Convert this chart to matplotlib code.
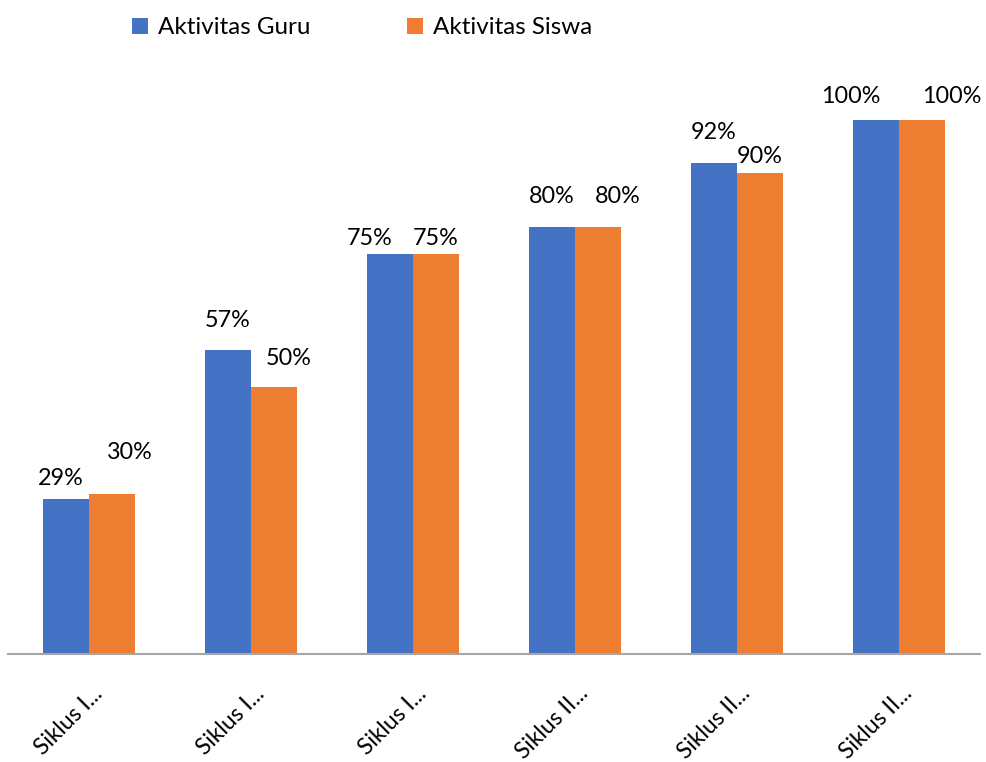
import matplotlib
matplotlib.use("Agg")
import matplotlib.pyplot as plt
import matplotlib.transforms as mtransforms
import numpy as np

categories = ["Siklus I...", "Siklus I...", "Siklus I...", "Siklus II...", "Siklus II...", "Siklus II..."]
guru = [29, 57, 75, 80, 92, 100]
siswa = [30, 50, 75, 80, 90, 100]
series_names = ["Aktivitas Guru", "Aktivitas Siswa"]

# label offsets in pixels (dx, dy) to mimic reference placement
guru_off = [(-5, 21), (0, 29), (-20, 15), (0, 30), (0, 30), (-25, 24)]
siswa_off = [(18, 41), (15, 29), (0, 15), (20, 30), (0, 17), (30, 24)]

plt.rcParams['font.family'] = ['Lato', 'DejaVu Sans']
blue = "#4472C4"
orange = "#ED7D31"

W, H = 987, 762
fig = plt.figure(figsize=(W / 100, H / 100), dpi=100)
ax = fig.add_axes([8 / W, 1 - 654 / H, 972 / W, (654 - 60) / H])

x = np.arange(len(categories))
bw = 46 / 162
b1 = ax.bar(x - bw / 2, guru, bw, color=blue, label=series_names[0], zorder=2)
b2 = ax.bar(x + bw / 2, siswa, bw, color=orange, label=series_names[1], zorder=2)

for bars, vals, offs in ((b1, guru, guru_off), (b2, siswa, siswa_off)):
    for r, v, (dx, dy) in zip(bars, vals, offs):
        ax.annotate(f"{v}%", (r.get_x() + r.get_width() / 2, r.get_height()),
                    xytext=(dx, dy), textcoords="offset pixels",
                    ha="center", va="center", fontsize=16.8, color="#000000")

ax.set_xlim(-0.5, len(categories) - 0.5)
ax.set_ylim(0, (654 - 60) / 534 * 100)
for s in ["top", "right", "left"]:
    ax.spines[s].set_visible(False)
ax.spines["bottom"].set_color("#a6a6a6")
ax.spines["bottom"].set_linewidth(1.5)
ax.set_yticks([])
ax.set_xticks(x)
ax.set_xticklabels(categories, rotation=45, ha="right", va="center", rotation_mode="anchor",
                   fontsize=16.5, color="#000000")
ax.tick_params(axis="x", length=0, pad=26)
shift = mtransforms.ScaledTranslation(10 / 100, 0, fig.dpi_scale_trans)
for lbl in ax.get_xticklabels():
    lbl.set_transform(lbl.get_transform() + shift)

fig.legend(handles=[b1, b2], labels=series_names, loc="center", bbox_to_anchor=(362 / W, 1 - 28 / H),
           ncol=2, frameon=False, fontsize=17.4, handlelength=0.66, handleheight=0.66,
           handletextpad=0.41, columnspacing=4.0)

fig.savefig("out.png", dpi=100, facecolor="white")
